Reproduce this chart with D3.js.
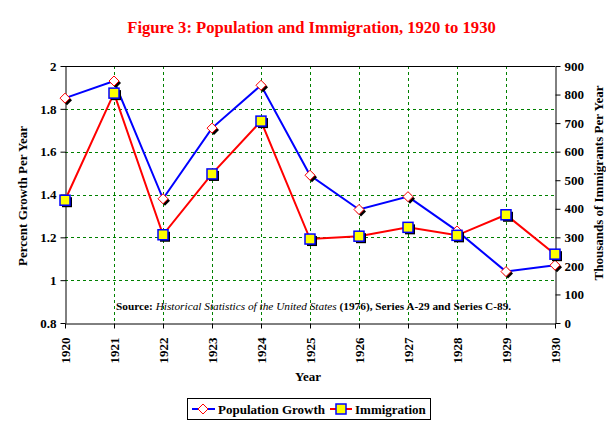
<!DOCTYPE html>
<html><head><meta charset="utf-8">
<script src="https://cdn.jsdelivr.net/npm/d3@7"></script>
<style>body{margin:0;background:#fff}svg{display:block}text{font-family:"Liberation Serif","DejaVu Serif",serif}</style>
</head><body>
<svg id="c" width="606" height="421"></svg>
<script>
const years = [1920,1921,1922,1923,1924,1925,1926,1927,1928,1929,1930];
const popGrowth = [1.85,1.93,1.38,1.71,1.91,1.49,1.33,1.39,1.23,1.04,1.07];
const immigration = [430,805,309,522,707,294,304,335,307,379,241];
const leftTicks = [0.8,1,1.2,1.4,1.6,1.8,2];
const rightTicks = [0,100,200,300,400,500,600,700,800,900];

const svg = d3.select("#c");
const L=65,R=555,T=66,B=323;
const x = d3.scaleLinear().domain([1920,1930]).range([L,R]);
const yL = d3.scaleLinear().domain([0.8,2]).range([B,T]);
const yR = d3.scaleLinear().domain([0,900]).range([B,T]);

svg.append("text").attr("x",311.5).attr("y",33).attr("text-anchor","middle")
  .attr("fill","#f00").attr("font-weight","bold").attr("font-size",16.6)
  .text("Figure 3: Population and Immigration, 1920 to 1930");

// grid
const g = svg.append("g").attr("stroke","#008000").attr("stroke-dasharray","3,3").attr("stroke-width",1);
leftTicks.filter(d=>d>0.8&&d<2).forEach(d=>{
  g.append("line").attr("x1",L).attr("x2",R).attr("y1",Math.round(yL(d))+0.5).attr("y2",Math.round(yL(d))+0.5);
});
years.filter(d=>d>1920&&d<1930).forEach(d=>{
  g.append("line").attr("y1",T).attr("y2",B).attr("x1",Math.round(x(d))+0.5).attr("x2",Math.round(x(d))+0.5);
});

// frame top
svg.append("line").attr("x1",L).attr("x2",R).attr("y1",T+0.5).attr("y2",T+0.5).attr("stroke","#000");

// axes
const axL = svg.append("g").attr("transform",`translate(${L+0.5},0)`)
  .call(d3.axisLeft(yL).tickValues(leftTicks).tickFormat(d3.format("~g")).tickSize(5).tickSizeOuter(0));
const axR = svg.append("g").attr("transform",`translate(${R+0.5},0)`)
  .call(d3.axisRight(yR).tickValues(rightTicks).tickSize(5).tickSizeOuter(0));
const axB = svg.append("g").attr("transform",`translate(0,${B+0.5})`)
  .call(d3.axisBottom(x).tickValues(years).tickFormat(d3.format("d")).tickSize(5).tickSizeOuter(0));
[axL,axR,axB].forEach(a=>{
  a.selectAll("path,line").attr("stroke","#000");
  a.selectAll("text").attr("font-family","'Liberation Serif',serif").attr("font-weight","bold").attr("font-size",13).attr("fill","#000");
});
axL.selectAll("text").attr("x",-9);
axR.selectAll("text").attr("x",9);
axB.selectAll("text").attr("transform","rotate(-90)").attr("text-anchor","end")
  .attr("x",-14).attr("y",0).attr("dy","0.35em");

// axis titles
svg.append("text").attr("transform","translate(27,196) rotate(-90)").attr("text-anchor","middle")
  .attr("font-weight","bold").attr("font-size",13).text("Percent Growth Per Year");
svg.append("text").attr("transform","translate(603,183) rotate(-90)").attr("text-anchor","middle")
  .attr("font-weight","bold").attr("font-size",13).text("Thousands of Immigrants Per Year");
svg.append("text").attr("x",308).attr("y",381).attr("text-anchor","middle")
  .attr("font-weight","bold").attr("font-size",13).text("Year");

// source
const src = svg.append("text").attr("x",116).attr("y",310).attr("font-size",11.3);
src.append("tspan").attr("font-weight","bold").text("Source: ");
src.append("tspan").attr("font-style","italic").text("Historical Statistics of the United States");
src.append("tspan").attr("font-weight","bold").text(" (1976), Series A-29 and Series C-89.");

// lines
const lineP = d3.line().x((d,i)=>x(years[i])).y(d=>yL(d));
const lineI = d3.line().x((d,i)=>x(years[i])).y(d=>yR(d));
svg.append("path").attr("d",lineP(popGrowth)).attr("fill","none").attr("stroke","#00f").attr("stroke-width",2);
svg.append("path").attr("d",lineI(immigration)).attr("fill","none").attr("stroke","#f00").attr("stroke-width",2);

function diamond(sel,cx,cy){
  const s=5;
  const pts=(ox,oy)=>`${cx+ox},${cy+oy-s} ${cx+ox+s},${cy+oy} ${cx+ox},${cy+oy+s} ${cx+ox-s},${cy+oy}`;
  sel.append("polygon").attr("points",pts(2,2)).attr("fill","#000");
  sel.append("polygon").attr("points",pts(0,0)).attr("fill","#fff").attr("stroke","#f00").attr("stroke-width",1);
}
function square(sel,cx,cy){
  const s=5;
  sel.append("rect").attr("x",cx-s+2).attr("y",cy-s+2).attr("width",2*s).attr("height",2*s).attr("fill","#000");
  sel.append("rect").attr("x",cx-s).attr("y",cy-s).attr("width",2*s).attr("height",2*s).attr("fill","#ff0").attr("stroke","#00f").attr("stroke-width",1.5);
}
const mk = svg.append("g");
popGrowth.forEach((d,i)=>diamond(mk,x(years[i]),yL(d)));
immigration.forEach((d,i)=>square(mk,x(years[i]),yR(d)));

// legend
const lg = svg.append("g");
lg.append("rect").attr("x",187.5).attr("y",398.5).attr("width",243).attr("height",21).attr("fill","#fff").attr("stroke","#000");
lg.append("line").attr("x1",192).attr("x2",215).attr("y1",409).attr("y2",409).attr("stroke","#00f").attr("stroke-width",2);
(function(){const cx=203,cy=409,s=5;
  lg.append("polygon").attr("points",`${cx},${cy-s} ${cx+s},${cy} ${cx},${cy+s} ${cx-s},${cy}`).attr("fill","#fff").attr("stroke","#f00");})();
lg.append("text").attr("x",218).attr("y",414).attr("font-weight","bold").attr("font-size",13).text("Population Growth");
lg.append("line").attr("x1",330).attr("x2",352).attr("y1",409).attr("y2",409).attr("stroke","#f00").attr("stroke-width",2);
lg.append("rect").attr("x",336).attr("y",404).attr("width",10).attr("height",10).attr("fill","#ff0").attr("stroke","#00f").attr("stroke-width",1.5);
lg.append("text").attr("x",355).attr("y",414).attr("font-weight","bold").attr("font-size",13).text("Immigration");
</script>
</body></html>
